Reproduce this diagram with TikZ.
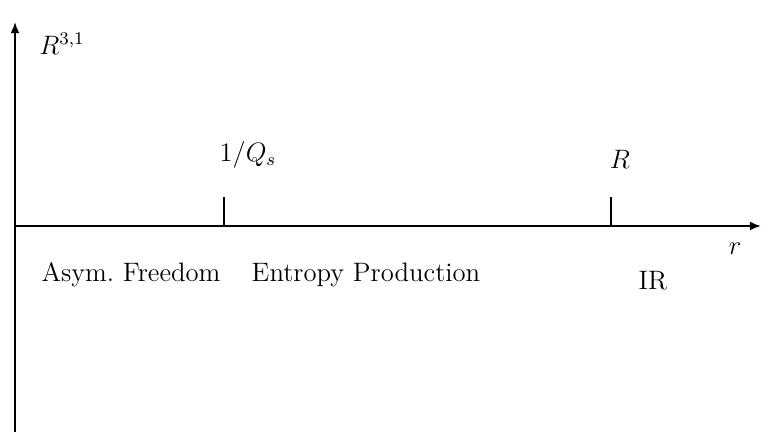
\documentclass[tikz,border=0pt]{standalone}
\usetikzlibrary{arrows.meta}
\begin{document}
\begin{tikzpicture}[x=0.45pt,y=-0.45pt,line width=0.8pt,
  axis/.style={-{Latex[length=5pt,width=4pt]}},
  lbl/.style={font=\large,inner sep=0pt}]
\useasboundingbox (0,0) rectangle (761,432);
% axes
\coordinate (ybot) at (15,432);
\coordinate (ytop) at (15,22);
\coordinate (xbeg) at (15,226);
\coordinate (xend) at (761,226);
\draw[axis] (ybot) -- (ytop);
\draw[axis] (xbeg) -- (xend);
% ticks
\coordinate (qs) at (224,226);
\coordinate (qstop) at (224,197);
\coordinate (rr) at (611,226);
\coordinate (rrtop) at (611,197);
\draw (qs) -- (qstop);
\draw (rr) -- (rrtop);
% labels
\node[lbl] (space) at (62,44) {$R^{3,1}$};
\node[lbl] (qslbl) at (248,155) {$1/Q_s$};
\node[lbl] (rlbl) at (620,159) {$R$};
\node[lbl] (rax) at (735,249) {$r$};
\node[lbl] (asym) at (131,275) {Asym.\ Freedom};
\node[lbl] (entr) at (366,275) {Entropy Production};
\node[lbl] (ir) at (653,281) {IR};
\end{tikzpicture}
\end{document}
